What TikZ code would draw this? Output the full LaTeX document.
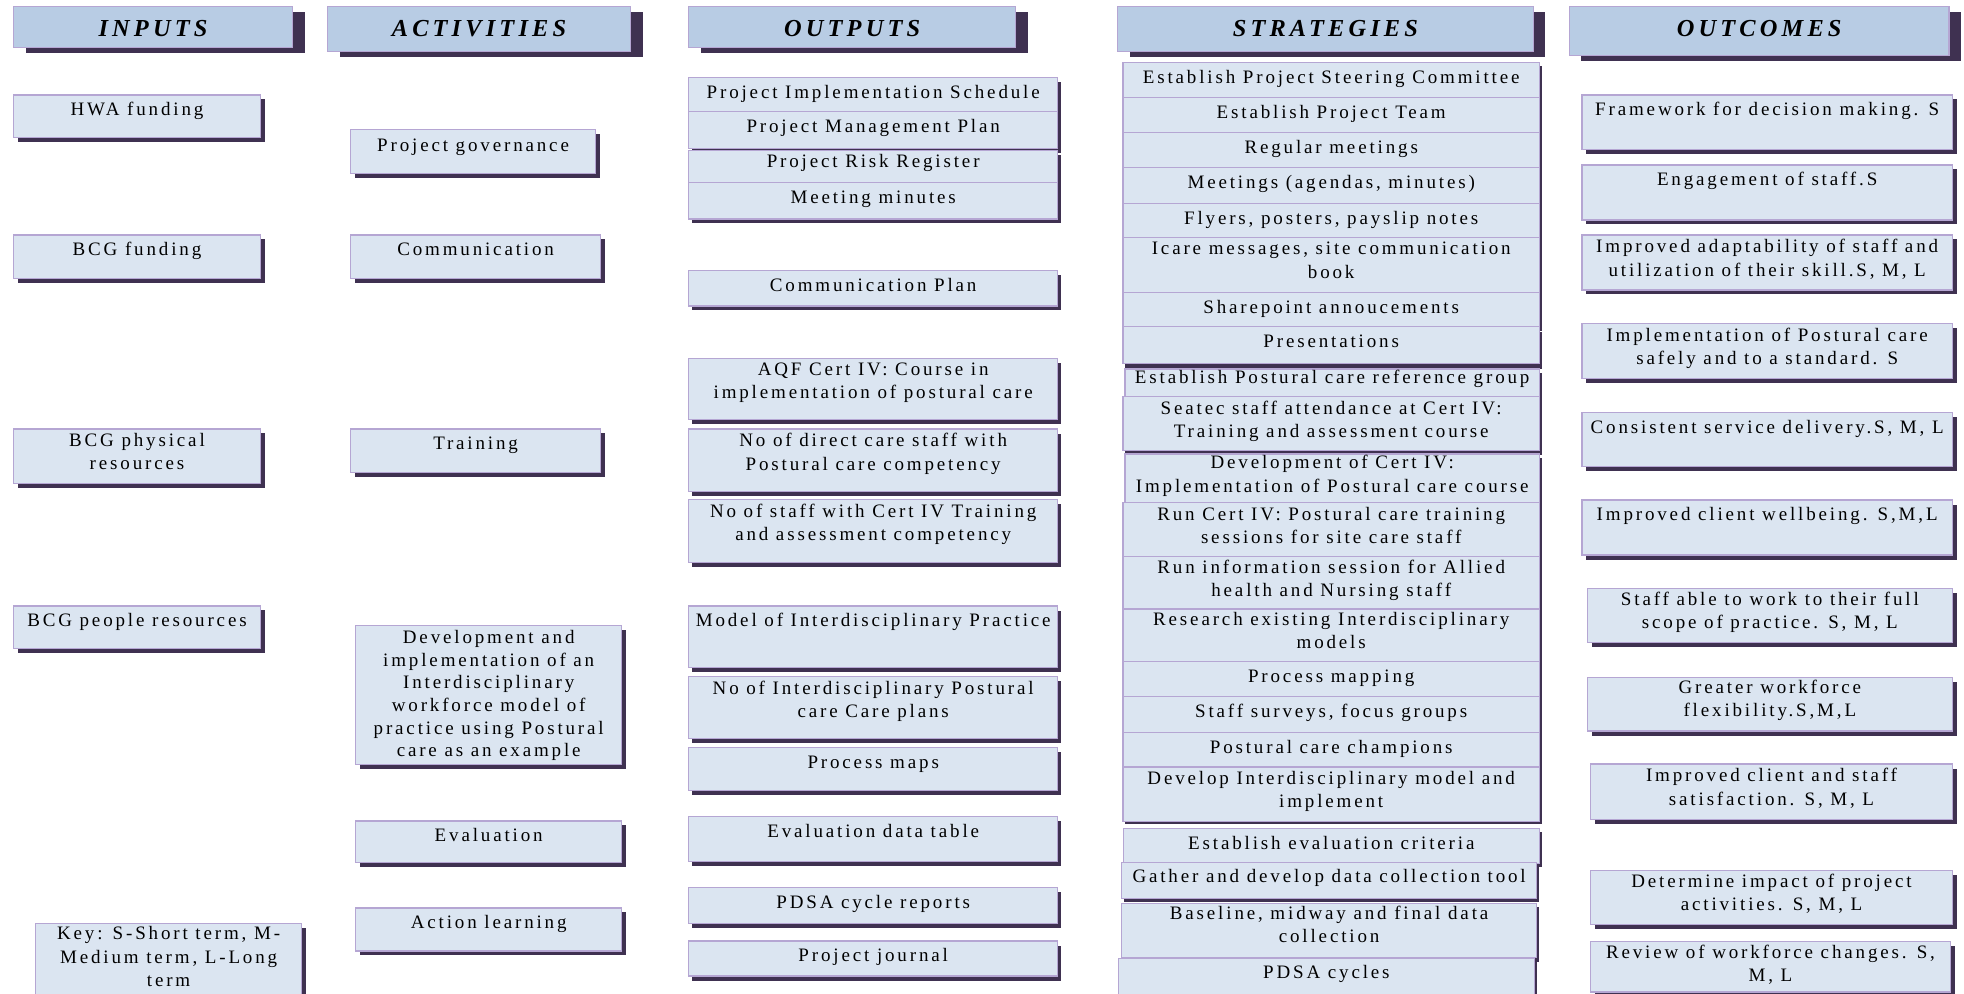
\documentclass[tikz,border=0pt]{standalone}
\usepackage{fontspec}
\setmainfont{Liberation Serif}
\newfontfamily\boxfont[LetterSpace=15]{Liberation Serif}
\newfontfamily\hdrfont[LetterSpace=17]{Liberation Serif}
\usetikzlibrary{calc,fit}
\definecolor{hdrfill}{HTML}{B8CCE4}
\definecolor{boxfill}{HTML}{DBE5F1}
\definecolor{boxline}{HTML}{B5A6D3}
\definecolor{shadowcol}{HTML}{3F3151}
\tikzset{
  boff/.store in=\boff, boff=21,
  shy/.code={\def\sdy{#1}},
  hdrst/.style={draw=boxline, fill=hdrfill, line width=0.6pt, inner sep=0pt},
  hdrtxt/.style={font=\hdrfont\fontsize{12.2}{14}\bfseries\itshape\selectfont, anchor=base, inner sep=0pt},
  boxst/.style={draw=boxline, fill=boxfill, line width=0.6pt, inner sep=0pt},
  txtst/.style={font=\boxfont\fontsize{9.5}{11.65}\selectfont, align=center, anchor=north, inner sep=0pt, execute at begin node=\strut},
}
\newcommand\myhdr[6]{%
  \fill[shadowcol] (#2+\sdx,#3+\sdy) rectangle (#4+\sdx,#5+\sdy);
  \node[hdrst, fit={(#2,#3)(#4,#5)}] (#1) {};
  \node[hdrtxt] (#1-t) at ({(#2+#4)/2},36.7) {#6};
}
\newcommand\mybox[7][]{%
  \begin{scope}[#1]
  \fill[shadowcol] (#3+\sdx,#4+\sdy) rectangle (#5+\sdx,#6+\sdy);
  \node[boxst, fit={(#3,#4)(#5,#6)}] (#2) {};
  \node[txtst] (#2-t) at ($(#2.north)+(0,\boff)+(0,-16.31)$) {#7};
  \end{scope}
}
\begin{document}
\begin{tikzpicture}[x=0.5pt,y=-0.5pt]
\useasboundingbox[fill=white] (0,0) rectangle (1964,994);
% headers
\def\sdx{12}\def\sdy{5.4}
\myhdr{hin}{13.5}{6.7}{292.5}{47.3}{INPUTS}
\myhdr{hact}{327.5}{6.7}{630.5}{51.7}{ACTIVITIES}
\myhdr{hout}{688.6}{6.7}{1015.7}{47.3}{OUTPUTS}
\myhdr{hstr}{1117.5}{6.7}{1533.2}{51.7}{STRATEGIES}
\myhdr{hoc}{1569.4}{6.7}{1949}{55.7}{OUTCOMES}
% inputs
\def\sdx{4.5}\def\sdy{4.3}
\mybox{hwa}{13.5}{95}{260.5}{137.3}{HWA funding}
\mybox{bcgf}{13.5}{235}{260.5}{278.3}{BCG funding}
\mybox{bcgp}{13.5}{429}{260.5}{483.3}{BCG physical\\resources}
\mybox{bcgr}{13.5}{606}{260.5}{648.3}{BCG people resources}
\mybox[boff=20]{key}{35.8}{923.3}{301.4}{1010}{Key: S-Short term, M-\\Medium term, L-Long\\term}
% activities
\mybox[boff=22]{gov}{350.6}{129.3}{595.6}{173.3}{Project governance}
\mybox{comm}{350.6}{235}{600.6}{278.3}{Communication}
\mybox{train}{350.6}{429}{600.6}{472.7}{Training}
\mybox[boff=21.4,txtst/.append style={font=\boxfont\fontsize{9.5}{11.35}\selectfont}]{dev}{355.7}{625.3}{621.7}{764.3}{Development and\\implementation of an\\Interdisciplinary\\workforce model of\\practice using Postural\\care as an example}
\mybox{eval}{355.7}{821}{621.7}{862.7}{Evaluation}
\mybox{actl}{355.7}{908}{621.7}{951}{Action learning}
% outputs
\def\sdx{3}\def\sdy{4.5}
\mybox{ois}{688.6}{77.3}{1057.8}{111.7}{Project Implementation Schedule}
\mybox{omp}{688.6}{111.7}{1057.8}{148.3}{Project Management Plan}
\mybox[boff=17]{orr}{688.6}{150.7}{1057.8}{182.7}{Project Risk Register}
\mybox{omm}{688.6}{182.7}{1057.8}{219}{Meeting minutes}
\mybox{ocp}{688.6}{270.7}{1057.8}{306}{Communication Plan}
\mybox{oaqf}{688.6}{358.3}{1057.8}{419.3}{AQF Cert IV: Course in\\implementation of postural care}
\mybox{odc}{688.6}{429}{1057.8}{491.7}{No of direct care staff with\\Postural care competency}
\mybox{ost}{688.6}{499.7}{1057.8}{562.3}{No of staff with Cert IV Training\\and assessment competency}
\mybox{omod}{688.6}{606}{1057.8}{667.3}{Model of Interdisciplinary Practice}
\mybox{oni}{688.6}{676.7}{1057.8}{738.3}{No of Interdisciplinary Postural\\care Care plans}
\mybox{opm}{688.6}{747.3}{1057.8}{790.7}{Process maps}
\mybox{oedt}{688.6}{816.7}{1057.8}{861.3}{Evaluation data table}
\mybox{opdsa}{688.6}{887.3}{1057.8}{923.3}{PDSA cycle reports}
\mybox{opj}{688.6}{941}{1057.8}{976}{Project journal}
% strategies
\def\sdx{2.3}\def\sdy{4}
\mybox{s1}{1123}{62.3}{1539.4}{97.7}{Establish Project Steering Committee}
\mybox{s2}{1123}{97.7}{1539.4}{132.7}{Establish Project Team}
\mybox{s3}{1123}{132.7}{1539.4}{167.7}{Regular meetings}
\mybox{s4}{1123}{167.7}{1539.4}{203.3}{Meetings (agendas, minutes)}
\mybox{s5}{1123}{203.3}{1539.4}{237.7}{Flyers, posters, payslip notes}
\mybox{s6}{1123}{237.7}{1539.4}{292.3}{Icare messages, site communication\\book}
\mybox{s7}{1123}{292.3}{1539.4}{326.7}{Sharepoint annoucements}
\mybox[shy=5.8]{s8}{1123}{326.7}{1539.4}{363.3}{Presentations}
\mybox[boff=15]{s9}{1125}{369}{1539.4}{396.7}{Establish Postural care reference group}
\mybox{s10}{1123}{396.7}{1539.4}{450.5}{Seatec staff attendance at Cert IV:\\Training and assessment course}
\mybox[boff=18]{s11}{1125}{454}{1539.4}{502.7}{Development of Cert IV:\\Implementation of Postural care course}
\mybox{s12}{1123}{502.7}{1539.4}{556.7}{Run Cert IV: Postural care training\\sessions for site care staff}
\mybox[boff=20]{s13}{1123}{556.7}{1539.4}{609}{Run information session for Allied\\health and Nursing staff}
\mybox[boff=20]{s14}{1123}{609}{1539.4}{661.7}{Research existing Interdisciplinary\\models}
\mybox{s15}{1123}{661.7}{1539.4}{696.7}{Process mapping}
\mybox{s16}{1123}{696.7}{1539.4}{732.3}{Staff surveys, focus groups}
\mybox{s17}{1123}{732.3}{1539.4}{767}{Postural care champions}
\mybox[shy=2.5]{s18}{1123}{767}{1539.4}{821.7}{Develop Interdisciplinary model and\\implement}
\mybox{s19}{1123.3}{828.3}{1539.3}{863.3}{Establish evaluation criteria}
\mybox[boff=20,shy=3.4]{s20}{1121.7}{862.7}{1536.5}{898.3}{Gather and develop data collection tool}
\mybox[boff=19]{s21}{1121.7}{903.3}{1536.5}{957.7}{Baseline, midway and final data\\collection}
\mybox[boff=20]{s22}{1118.3}{958.3}{1534.5}{1005}{PDSA cycles}
% outcomes
\def\sdx{4.2}\def\sdy{4.5}
\mybox{c1}{1582}{95}{1952.3}{149.3}{Framework for decision making. S}
\mybox{c2}{1582}{165}{1952.3}{220}{Engagement of staff.S}
\mybox{c3}{1582}{235}{1952.3}{290}{Improved adaptability of staff and\\utilization of their skill.S, M, L}
\mybox{c4}{1582}{323.3}{1952.3}{378.3}{Implementation of Postural care\\safely and to a standard. S}
\mybox{c5}{1582}{412.7}{1952.3}{466.7}{Consistent service delivery.S, M, L}
\mybox{c6}{1582}{500}{1952.3}{555}{Improved client wellbeing. S,M,L}
\mybox[boff=20]{c7}{1587.4}{588.3}{1952.3}{642.7}{Staff able to work to their full\\scope of practice. S, M, L}
\mybox[boff=19.5]{c8}{1587.4}{677.3}{1952.3}{731}{Greater workforce\\flexibility.S,M,L}
\mybox{c9}{1590.7}{764}{1952.3}{819.3}{Improved client and staff\\satisfaction. S, M, L}
\mybox[boff=19.5]{c10}{1590.7}{870.7}{1952.3}{924.3}{Determine impact of project\\activities. S, M, L}
\mybox[boff=20]{c11}{1590.7}{941.7}{1950.3}{992}{Review of workforce changes. S,\\M, L}
\end{tikzpicture}
\end{document}
